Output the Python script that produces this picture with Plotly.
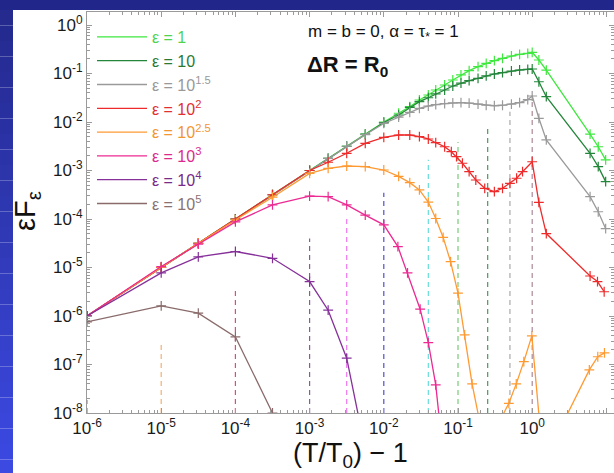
import numpy as np
import plotly.graph_objects as go

# ---------------- data (log10 values) ----------------
x_main = [-6, -5, -4.5, -4, -3.5, -3, -2.75, -2.5, -2.25, -2.0, -1.8, -1.65, -1.52, -1.4, -1.3,
          -1.18, -1.07, -0.96, -0.85, -0.73, -0.62, -0.51, -0.4, -0.28, -0.17, -0.06, 0.0,
          0.09, 0.19, 0.78, 0.89, 0.99]
eps1_logy = [-6, -5, -4.5, -4, -3.5, -3, -2.75, -2.5, -2.25, -2.0, -1.82, -1.684, -1.546, -1.443, -1.34,
             -1.237, -1.134, -1.03, -0.94, -0.86, -0.79, -0.736, -0.687, -0.639, -0.604, -0.584, -0.563,
             -0.722, -0.93, -2.25, -2.51, -2.78]
eps10_logy = [-6, -5, -4.5, -4, -3.5, -3, -2.75, -2.5, -2.25, -2.01, -1.856, -1.70, -1.58, -1.50, -1.42,
              -1.34, -1.258, -1.2, -1.148, -1.1, -1.05, -1.01, -0.983, -0.948, -0.928, -0.913, -0.907,
              -1.17, -1.478, -2.645, -2.92, -3.23]
eps15_logy = [-6, -5, -4.5, -4, -3.5, -3, -2.75, -2.5, -2.26, -2.03, -1.9, -1.8, -1.72, -1.67, -1.64,
              -1.62, -1.605, -1.6, -1.61, -1.63, -1.655, -1.665, -1.655, -1.63, -1.6, -1.54, -1.464,
              -1.924, -2.37, -3.54, -3.85, -4.2]

x_e2 = [-6, -5, -4.5, -4, -3.5, -3, -2.75, -2.5, -2.25, -2.0, -1.8, -1.65, -1.52, -1.4, -1.3,
        -1.18, -1.09, -1.02, -0.94, -0.85, -0.76, -0.64, -0.51, -0.4, -0.3, -0.21, -0.13, 0.0,
        0.09, 0.19, 0.78, 0.88, 0.97]
eps2_logy = [-6, -5, -4.5, -4, -3.5, -3.0, -2.83, -2.645, -2.44, -2.315, -2.268, -2.268, -2.303, -2.35, -2.427,
             -2.51, -2.612, -2.715, -2.85, -3.025, -3.196, -3.367, -3.437, -3.367, -3.264, -3.16, -3.025, -2.82,
             -3.656, -4.3, -5.175, -5.29, -5.5]

x_e25 = [-6, -5, -4.5, -4, -3.5, -3, -2.75, -2.5, -2.25, -2.0, -1.8, -1.65, -1.52, -1.4, -1.3,
         -1.2, -1.1, -1.0, -0.91, -0.81, -0.6, -0.45, -0.315, -0.215, -0.113, -0.005, 0.1,
         0.2, 0.4, 0.77, 0.884, 0.974]
eps25_logy = [-6, -5, -4.5, -4.02, -3.55, -3.06, -2.955, -2.907, -2.92, -2.99, -3.12, -3.25, -3.40, -3.65, -3.99,
              -4.38, -4.88, -5.53, -6.39, -7.4, -9.0, -8.2, -7.8, -7.4, -6.94, -6.41, -8.2,
              -9.0, -8.25, -7.11, -6.84, -6.76]

x_e3 = [-6, -5, -4.5, -4, -3.5, -3, -2.75, -2.5, -2.25, -2.0, -1.81, -1.68, -1.51, -1.4, -1.3, -1.2]
eps3_logy = [-6, -4.98, -4.52, -4.06, -3.71, -3.53, -3.54, -3.71, -3.92, -4.12, -4.57, -5.11, -5.86, -6.55, -7.42, -8.87]

x_e4 = [-6, -5, -4.5, -4, -3.5, -3, -2.75, -2.5, -2.25]
eps4_logy = [-6, -5.11, -4.78, -4.67, -4.81, -5.29, -5.88, -6.87, -8.75]

x_e5 = [-6, -5, -4.5, -4, -3.5]
eps5_logy = [-6.12, -5.79, -5.94, -6.43, -8.0]

series_names = ["ε = 1", "ε = 10", "ε = 10<sup>1.5</sup>", "ε = 10<sup>2</sup>",
                "ε = 10<sup>2.5</sup>", "ε = 10<sup>3</sup>", "ε = 10<sup>4</sup>", "ε = 10<sup>5</sup>"]
series_x = [x_main, x_main, x_main, x_e2, x_e25, x_e3, x_e4, x_e5]
series_logy = [eps1_logy, eps10_logy, eps15_logy, eps2_logy, eps25_logy, eps3_logy, eps4_logy, eps5_logy]
series_colors = ["#3ee83e", "#23863a", "#9a9a9a", "#ee2a2a", "#ff9a33", "#ec2a92", "#86309a", "#8a6a6a"]
text_colors = ["#4fd44f", "#2a7a34", "#999999", "#e23030", "#f29632", "#dc2a8c", "#7a2a88", "#8a7272"]

# vertical dashed markers
vline_logx = [-6, -5, -4, -3, -2.5, -2, -1.4, -1, -0.6, -0.3, 0]
vline_logtop = [-7.73, -6.54, -5.46, -4.4, -3.96, -3.46, -2.78, -2.41, -2.06, -1.79, -1.55]
vline_colors = ["#e0609a", "#f5b070", "#e04a80", "#8a5a9a", "#ee77ee", "#5050cc",
                "#66dddd", "#77cc77", "#4a9a5a", "#aaaaaa", "#aa8899"]

x_tickvals = [1e-6, 1e-5, 1e-4, 1e-3, 1e-2, 1e-1, 1e0, 1e1]
x_ticktext = ["10<sup>-6</sup>", "10<sup>-5</sup>", "10<sup>-4</sup>", "10<sup>-3</sup>",
              "10<sup>-2</sup>", "10<sup>-1</sup>", "10<sup>0</sup>", "10<sup>1</sup>"]
y_tickvals = [1e-8, 1e-7, 1e-6, 1e-5, 1e-4, 1e-3, 1e-2, 1e-1, 1e0]
y_ticktext = ["10<sup>-8</sup>", "10<sup>-7</sup>", "10<sup>-6</sup>", "10<sup>-5</sup>", "10<sup>-4</sup>",
              "10<sup>-3</sup>", "10<sup>-2</sup>", "10<sup>-1</sup>", "10<sup>0</sup>"]

# ---------------- figure ----------------
fig = go.Figure()
for lx, lt, c in zip(vline_logx, vline_logtop, vline_colors):
    fig.add_trace(go.Scatter(x=[10 ** lx, 10 ** lx], y=[1e-8, 10 ** lt], mode="lines",
                             line=dict(color=c, width=1.2, dash="5px,4px"),
                             showlegend=False, hoverinfo="skip"))

for name, xs, ys, c, tc in zip(series_names, series_x, series_logy, series_colors, text_colors):
    xv = np.power(10.0, xs)
    yv = np.power(10.0, ys)
    fig.add_trace(go.Scatter(x=xv, y=yv, mode="lines", line=dict(color=c, width=1.3),
                             name=f"<span style='color:{tc}'>{name}</span>", showlegend=True))
    fig.add_trace(go.Scatter(x=xv, y=yv, mode="markers", showlegend=False,
                             marker=dict(symbol="cross-thin", size=7, line=dict(color=c, width=1.2))))

W, H = 614, 473
L, R, T, B = 87, 0, 12, 60
pw, ph = W - L - R, H - T - B

def px(xp):
    return (xp - L) / pw

def py(yp):
    return (H - B - yp) / ph

axis_common = dict(type="log", showline=True, linecolor="#9a9a9a", linewidth=1, mirror="allticks",
                   ticks="inside", ticklen=5, tickcolor="#9a9a9a", showgrid=False, zeroline=False,
                   tickfont=dict(family="Liberation Sans, Arial", size=17, color="#1a1a1a"),
                   minor=dict(ticks="inside", ticklen=3, tickcolor="#9a9a9a", dtick="D1", showgrid=False))

fig.update_xaxes(range=[-6, -6 + pw / 74.2], tickvals=x_tickvals, ticktext=x_ticktext, **axis_common)
fig.update_yaxes(range=[-8, -8 + ph / 48.5], tickvals=y_tickvals, ticktext=y_ticktext, **axis_common)

# blue slide background strips
shapes = [dict(type="rect", xref="paper", yref="paper", x0=px(0), x1=1.02, y0=py(10), y1=py(-2),
               fillcolor="#20268a", line=dict(width=0), layer="below")]
nb = 30
c0 = np.array([0x24, 0x2a, 0x8e])
c1 = np.array([0x3c, 0x4a, 0xe2])
for i in range(nb):
    t = i / (nb - 1)
    col = (c0 + (c1 - c0) * t).astype(int)
    y0p = 10 + (H + 2 - 10) * i / nb
    y1p = 10 + (H + 2 - 10) * (i + 1) / nb
    shapes.append(dict(type="rect", xref="paper", yref="paper", x0=px(-2), x1=px(13),
                       y0=py(y1p), y1=py(y0p),
                       fillcolor=f"rgb({col[0]},{col[1]},{col[2]})", line=dict(width=0), layer="below"))

annotations = [
    dict(xref="paper", yref="paper", x=px(306), y=py(33), xanchor="left", yanchor="middle",
         text="m = b = 0, α = τ<sub>*</sub> = 1", showarrow=False,
         font=dict(family="Liberation Sans, Arial", size=17, color="#111")),
    dict(xref="paper", yref="paper", x=px(305), y=py(66), xanchor="left", yanchor="middle",
         text="<b>ΔR = R<sub>0</sub></b>", showarrow=False,
         font=dict(family="Liberation Sans, Arial", size=22, color="#111")),
    dict(xref="paper", yref="paper", x=px(350), y=py(455), xanchor="center", yanchor="middle",
         text="(T/T<sub>0</sub>) − 1", showarrow=False,
         font=dict(family="Liberation Sans, Arial", size=27, color="#111")),
    dict(xref="paper", yref="paper", x=px(27), y=py(211), xanchor="center", yanchor="middle",
         text="εF<sub>ε</sub>", textangle=-90, showarrow=False,
         font=dict(family="Liberation Sans, Arial", size=29, color="#111")),
]

fig.update_layout(
    width=W, height=H, margin=dict(l=L, r=R, t=T, b=B, pad=0),
    paper_bgcolor="white", plot_bgcolor="white",
    shapes=shapes, annotations=annotations,
    legend=dict(x=px(92), y=py(20), xanchor="left", yanchor="top", bgcolor="rgba(0,0,0,0)",
                font=dict(family="Liberation Sans, Arial", size=16), itemwidth=50,
                tracegroupgap=0),
    showlegend=True,
)

fig.write_html("out.html", config={"displayModeBar": False},
               post_script="document.body.style.margin='0';document.body.style.overflow='hidden';")
